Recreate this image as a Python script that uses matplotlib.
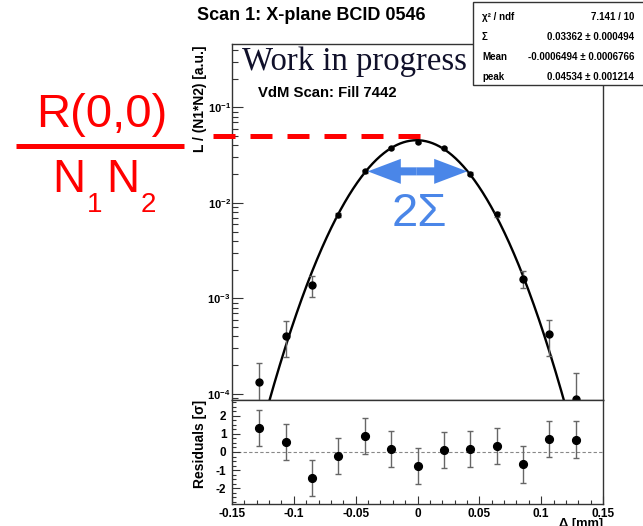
import matplotlib
matplotlib.use("Agg")
import matplotlib.pyplot as plt
import matplotlib.transforms as mtransforms
from matplotlib.lines import Line2D
from matplotlib.patches import FancyArrowPatch, Rectangle
from matplotlib.ticker import FixedLocator, MultipleLocator, NullFormatter, FuncFormatter
import numpy as np

plt.rcParams['font.family'] = ['Liberation Sans', 'DejaVu Sans']
plt.rcParams['mathtext.fontset'] = 'custom'
plt.rcParams['mathtext.rm'] = 'Liberation Sans'
plt.rcParams['mathtext.it'] = 'Liberation Sans:italic'
plt.rcParams['mathtext.bf'] = 'Liberation Sans:bold'

# scan points (beam separation in mm)
delta = [-0.128, -0.1067, -0.0853, -0.064, -0.0427, -0.0213, 0.0,
         0.0213, 0.0427, 0.064, 0.0853, 0.1067, 0.128]
lumi = [1.35e-4, 4.08e-4, 1.37e-3, 7.48e-3, 0.0214, 0.0374, 0.0433,
        0.0374, 0.0202, 7.6e-3, 1.60e-3, 4.22e-4, 8.8e-5]
lumi_err = [7.4e-5, 1.66e-4, 3.4e-4, 4.0e-4, 8.0e-4, 1.0e-3, 1.2e-3,
            1.0e-3, 8.0e-4, 4.0e-4, 3.2e-4, 1.75e-4, 7.6e-5]
resid = [1.35, 0.56, -1.46, -0.22, 0.87, 0.15, -0.76,
         0.09, 0.15, 0.31, -0.69, 0.74, 0.69]
resid_err = [1.0] * 13

# gaussian fit results
chi2, ndf = 7.141, 10
sigma, sigma_err = 0.03362, 0.000494
mean, mean_err = -0.0006494, 0.0006766
peak, peak_err = 0.04534, 0.001214

xticks = [-0.15, -0.1, -0.05, 0.0, 0.05, 0.1, 0.15]
xtick_labels = ['-0.15', '-0.1', '-0.05', '0', '0.05', '0.1', '0.15']
yticks_log = [1e-4, 1e-3, 1e-2, 1e-1]
ytick_log_labels = [r'$\mathbf{10^{-4}}$', r'$\mathbf{10^{-3}}$',
                    r'$\mathbf{10^{-2}}$', r'$\mathbf{10^{-1}}$']
yticks_res = [-2, -1, 0, 1, 2]

W, H = 643, 526
fig = plt.figure(figsize=(W / 100, H / 100), dpi=100)


def fx(px):
    return px / W


def fy(py):
    return 1 - py / H


frame_col = '#333333'
ax = fig.add_axes([fx(232), fy(400), fx(603) - fx(232), fy(44) - fy(400)])
axr = fig.add_axes([fx(232), fy(504), fx(603) - fx(232), fy(400) - fy(504)])

# --- main panel: luminosity per bunch-pair vs separation
ax.set_yscale('log')
ax.set_xlim(-0.15, 0.15)
ax.set_ylim(8.65e-5, 0.461)

xs = np.linspace(-0.15, 0.15, 800)
fit = peak * np.exp(-(xs - mean) ** 2 / (2 * sigma ** 2))
ax.plot(xs, fit, color='black', lw=1.7, zorder=3)

d = np.array(delta)
core = np.abs(d) < 0.07
for sel, ms in ((core, 3.6), (~core, 5.0)):
    ax.errorbar(d[sel], np.array(lumi)[sel], yerr=np.array(lumi_err)[sel],
                fmt='o', color='black', ms=ms, ecolor='#666666',
                elinewidth=1.0, capsize=2, capthick=1.0, zorder=4, clip_on=False)

ax.yaxis.set_major_locator(FixedLocator(yticks_log))
ax.yaxis.set_major_formatter(FuncFormatter(
    lambda v, p: ytick_log_labels[yticks_log.index(v)] if v in yticks_log else ''))
minor = [m * 10.0 ** e for e in range(-5, 0) for m in range(2, 10)]
ax.yaxis.set_minor_locator(FixedLocator(minor))
ax.yaxis.set_minor_formatter(NullFormatter())
ax.tick_params(axis='y', which='major', direction='in', length=8, width=0.8,
               labelsize=8, pad=1, colors=frame_col, labelcolor='black')
ax.tick_params(axis='y', which='minor', direction='in', length=4, width=0.8,
               colors=frame_col)
ax.tick_params(axis='x', which='both', bottom=False, labelbottom=False)
for s in ax.spines.values():
    s.set_color(frame_col)
    s.set_linewidth(1.0)

# peak marker line and 2 sigma width arrow
line_tr = mtransforms.offset_copy(ax.transData, fig=fig, x=0, y=4, units='dots')
ax.plot([-0.1654, mean + 0.0027], [peak, peak], color='red', lw=3.6,
        dashes=(4.4, 3.0), transform=line_tr, clip_on=False, zorder=5)

arrow_y = lumi[4]
for tip in (delta[4], delta[8]):
    arr = FancyArrowPatch((mean, arrow_y), (tip, arrow_y),
                          arrowstyle='simple,head_length=2.38,head_width=1.8,tail_width=0.58',
                          mutation_scale=10, shrinkA=0, shrinkB=2.2,
                          color='#4a86e8', lw=0, zorder=6)
    ax.add_patch(arr)

# --- residual panel
axr.set_xlim(-0.15, 0.15)
axr.set_ylim(-2.88, 2.88)
axr.axhline(0, color='#888888', lw=0.8, ls=(0, (3, 2)), zorder=1)
axr.errorbar(delta, resid, yerr=resid_err, fmt='o', color='black', ms=5.6,
             ecolor='#666666', elinewidth=1.0, capsize=2, capthick=1.0, zorder=3)
axr.xaxis.set_major_locator(FixedLocator(xticks))
axr.xaxis.set_major_formatter(FuncFormatter(
    lambda v, p: xtick_labels[int(round((v + 0.15) / 0.05))]))
axr.xaxis.set_minor_locator(MultipleLocator(0.01))
axr.yaxis.set_major_locator(FixedLocator(yticks_res))
axr.yaxis.set_major_formatter(FuncFormatter(lambda v, p: f'{int(round(v))}'))
axr.yaxis.set_minor_locator(MultipleLocator(0.25))
axr.tick_params(which='major', direction='in', length=6, width=0.8,
                labelsize=8.5, colors=frame_col, labelcolor='black')
axr.tick_params(which='minor', direction='in', length=3, width=0.8, colors=frame_col)
axr.tick_params(axis='x', pad=3)
axr.tick_params(axis='y', pad=4)
for s in axr.spines.values():
    s.set_color(frame_col)
    s.set_linewidth(1.0)
for lbl in axr.get_xticklabels() + axr.get_yticklabels():
    lbl.set_fontweight('bold')

# --- texts
fig.text(fx(311.5), fy(16), 'Scan 1: X-plane BCID 0546', ha='center', va='center',
         fontsize=13, fontweight='bold')
fig.text(fx(242), fy(70), 'Work in progress', ha='left', va='baseline',
         family=['Liberation Serif', 'DejaVu Serif'], fontsize=23.6, color='#10102a')
fig.text(fx(258), fy(97), 'VdM Scan: Fill 7442', ha='left', va='baseline',
         fontsize=10.7, fontweight='bold')
fig.text(fx(200), fy(46), 'L / (N1*N2) [a.u.]', rotation=90, ha='center', va='top',
         fontsize=10, fontweight='bold')
fig.text(fx(200), fy(400), 'Residuals [σ]', rotation=90, ha='center', va='top',
         fontsize=10, fontweight='bold')
fig.text(fx(603), fy(518), 'Δ [mm]', ha='right', va='top', fontsize=9.3,
         fontweight='bold')

# fraction R(0,0) / N1N2
fig.text(fx(102), fy(127), 'R(0,0)', ha='center', va='baseline', fontsize=34,
         color='red')
fig.add_artist(Line2D([fx(16), fx(184)], [fy(146), fy(146)], color='red', lw=3.6,
                      solid_capstyle='butt', transform=fig.transFigure))
for txt, px, base, size in (('N', 52, 192, 33), ('1', 87, 212, 20),
                            ('N', 106, 192, 33), ('2', 141, 212, 20)):
    fig.text(fx(px), fy(base), txt, ha='left', va='baseline', fontsize=size,
             color='red')
fig.text(fx(419), fy(226), '2Σ', ha='center', va='baseline', fontsize=34,
         color='#4a86e8')

# fit statistics box
fig.add_artist(Rectangle((fx(473), fy(85)), fx(648) - fx(473), fy(2) - fy(85),
                         transform=fig.transFigure, facecolor='white',
                         edgecolor=frame_col, lw=1.0, zorder=5))
rows = [('χ² / ndf', f'{chi2:.3f} / {ndf}'),
        ('Σ', f'{sigma:g} ± {sigma_err:g}'),
        ('Mean', f'{mean:g} ± {mean_err:g}'),
        ('peak', f'{peak:g} ± {peak_err:g}')]
for i, (name, val) in enumerate(rows):
    yy = fy(17 + 20 * i)
    fig.text(fx(482), yy, name, ha='left', va='center', fontsize=7,
             fontweight='bold', zorder=6)
    fig.text(fx(634), yy, val, ha='right', va='center', fontsize=7,
             fontweight='bold', zorder=6)

fig.savefig('out.png', dpi=100)
